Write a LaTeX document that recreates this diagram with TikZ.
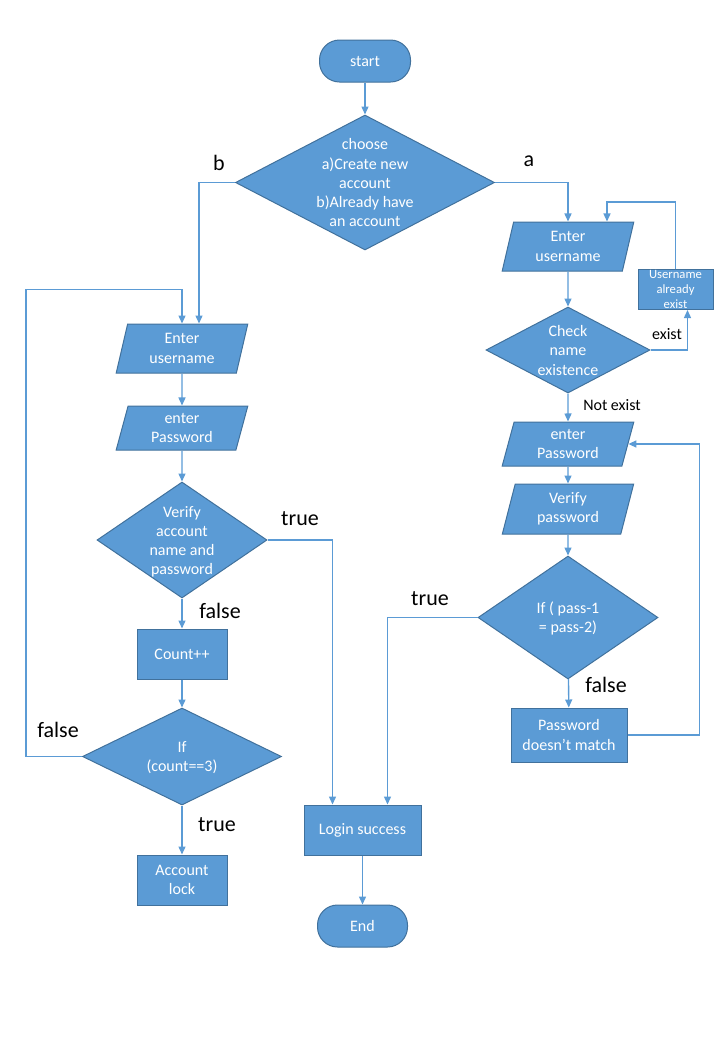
\documentclass[tikz,border=0pt]{standalone}
\usepackage{fontspec}
\setmainfont{Carlito}
\usetikzlibrary{shapes.geometric,arrows.meta,calc}
\definecolor{boxfill}{HTML}{5B9BD5}
\definecolor{boxline}{HTML}{41719C}
\definecolor{flow}{HTML}{5B9BD5}
% centred lines of text that take no room, so the diamond keeps its set size
\newcommand\dlines[1]{\smash{\raisebox{-4.5pt}{\begin{tabular}{@{}c@{}}#1\end{tabular}}}}
\begin{document}
\begin{tikzpicture}[x=0.75pt,y=-0.75pt,
  sz/.style 2 args={minimum width=#1*0.75pt, minimum height=#2*0.75pt},
  base/.style={draw=boxline, fill=boxfill, line width=0.75pt, text=white,
    inner sep=0pt, font=\fontsize{12}{14.4}\selectfont, align=center},
  terminal/.style={base, rectangle, rounded corners=15pt},
  process/.style={base, rectangle},
  io/.style={base, trapezium, trapezium left angle=77, trapezium right angle=103,
    trapezium stretches=true},
  decision/.style={base, diamond},
  flowline/.style={draw=flow, line width=1pt, -{Triangle[length=6pt,width=5.25pt]}},
  tag/.style={font=\fontsize{16.5}{18}\selectfont, text=black, inner sep=0pt},
  smalltag/.style={font=\fontsize{12}{14}\selectfont, text=black, inner sep=0pt}
]
\useasboundingbox (0,0) rectangle (720,1040);

% ---- top ----
\node[terminal, sz={91}{42}] (start) at (365,61) {start};
\node[decision, sz={259}{135}] (choose) at (365,182.5)
  {\dlines{choose\\a)Create new\\account\\b)Already have\\an account}};

% ---- right branch: create account ----
\node[io, sz={132}{49}] (uR) at (568,246.5) {Enter\\username};
\node[process, sz={75}{40}, font=\fontsize{9.5}{11.25}\selectfont] (ex) at (675.5,289.5)
  {Username\\already\\exist};
\node[decision, sz={164}{86}] (chk) at (568,350) {\dlines{Check\\name\\existence}};
\node[io, sz={132}{44}] (pR) at (568,444) {enter\\Password};
\node[io, sz={132}{50}] (vR) at (568,509) {Verify\\password};
\node[decision, sz={180}{123}] (ifR) at (568,617.5) {\dlines{If ( pass-1\\= pass-2)}};
\node[process, sz={116}{54}] (mm) at (569,735) {Password\\doesn’t match};

% ---- left branch: existing account ----
\node[io, sz={132}{49}] (uL) at (182,348.5) {Enter\\username};
\node[io, sz={132}{44}] (pL) at (182,428) {enter\\Password};
\node[decision, sz={170}{116}] (vL) at (182,540)
  {\dlines{Verify\\account\\name and\\password}};
\node[process, sz={90}{50}] (cnt) at (182,654) {Count++};
\node[decision, sz={199}{97}] (ifL) at (182,756.5) {\dlines{If\\(count==3)}};
\node[process, sz={90}{50}] (lock) at (182,880) {Account\\lock};

% ---- bottom ----
\node[process, sz={117}{50}] (ls) at (362.5,830) {Login success};
\node[terminal, sz={90}{42}] (stop) at (362.5,926) {End};

% ---- connectors ----
\draw[flowline] (start) -- (choose);
\draw[flowline] (choose.west) -| ($(uL.north)+(17,0)$);
\draw[flowline] (choose.east) -| (uR.north);
\draw[flowline] (uR) -- (chk);
\draw[flowline] (chk.east) -| ($(ex.south)+(12,0)$);
\draw[flowline] (ex.north) -- ++(0,-67) -| ($(uR.north)+(39,0)$);
\draw[flowline] (chk) -- (pR);
\draw[flowline] (pR) -- (vR);
\draw[flowline] (vR) -- (ifR);
\draw[flowline] (ifR) -- (mm);
\draw[flowline] (mm.east) -- ++(72,0) |- (pR.east);
\draw[flowline] (ifR.west) -| ($(ls.north)+(25,0)$);
\draw[flowline] (vL.east) -| ($(ls.north)+(-30,0)$);
\draw[flowline] (ls) -- (stop);
\draw[flowline] (uL) -- (pL);
\draw[flowline] (pL) -- (vL);
\draw[flowline] (vL) -- (cnt);
\draw[flowline] (cnt) -- (ifL);
\draw[flowline] (ifL) -- (lock);
\draw[flowline] (ifL.west) -- ++(-56,0) |- ($(uL.north)+(0,-34)$) -- (uL.north);

% ---- branch labels ----
\node[tag] (lb) at (219,163) {b};
\node[tag] (la) at (529,161) {a};
\node[smalltag] (lexist) at (667,334) {exist};
\node[smalltag] (lnot) at (612,405) {Not exist};
\node[tag] (ltrue1) at (300,519) {true};
\node[tag] (lfalse1) at (220,611) {false};
\node[tag] (lfalse2) at (58,730) {false};
\node[tag] (ltrue2) at (217,825) {true};
\node[tag] (ltrue3) at (430,599) {true};
\node[tag] (lfalse3) at (606,685) {false};
\end{tikzpicture}
\end{document}
